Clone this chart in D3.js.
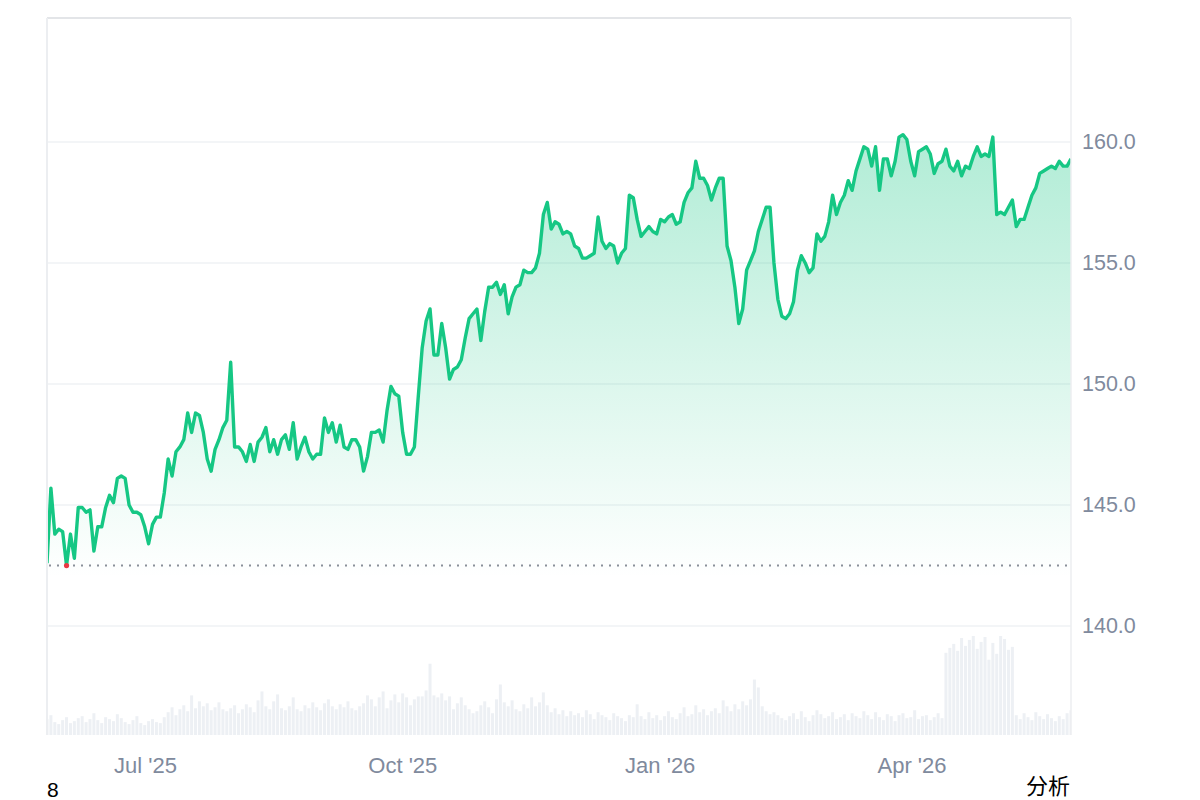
<!DOCTYPE html>
<html>
<head>
<meta charset="utf-8">
<script src="https://cdn.jsdelivr.net/npm/d3@7"></script>
<style>
  html, body { margin: 0; padding: 0; background: #fff; }
  svg { display: block; font-family: "Liberation Sans", Arial, sans-serif; }
</style>
</head>
<body>
<svg id="chart" width="1200" height="800"></svg>
<script>
// ---- data ----
const startDay = "2025-05-27";
const endDay = "2026-05-28";
const prices = [
  142.6,145.7,143.8,144.0,143.9,142.5,143.8,142.8,144.9,144.9,
  144.7,144.8,143.1,144.1,144.1,144.9,145.4,145.1,146.1,146.2,
  146.1,145.0,144.7,144.7,144.6,144.1,143.4,144.2,144.5,144.5,
  145.5,146.9,146.2,147.2,147.4,147.7,148.8,148.0,148.8,148.7,
  148.0,146.9,146.4,147.3,147.7,148.2,148.5,150.9,147.4,147.4,
  147.2,146.8,147.5,146.8,147.6,147.8,148.2,147.2,147.7,147.1,
  147.7,147.9,147.3,148.4,146.9,147.4,147.8,147.2,146.9,147.1,
  147.1,148.6,148.0,148.4,147.6,148.3,147.4,147.3,147.7,147.7,
  147.4,146.4,147.0,148.0,148.0,148.1,147.6,148.9,149.9,149.6,
  149.5,148.0,147.1,147.1,147.4,149.5,151.5,152.6,153.1,151.2,
  151.2,152.5,151.5,150.2,150.6,150.7,151.0,151.9,152.7,152.9,
  153.1,151.8,153.0,154.0,154.0,154.2,153.7,154.1,152.9,153.6,
  154.0,154.1,154.7,154.6,154.6,154.8,155.4,157.0,157.5,156.4,
  156.7,156.6,156.2,156.3,156.2,155.7,155.6,155.2,155.2,155.3,
  155.4,156.9,155.9,155.6,155.8,155.7,155.0,155.4,155.6,157.8,
  157.7,156.8,156.1,156.3,156.5,156.3,156.2,156.8,156.7,156.9,
  157.0,156.6,156.7,157.5,157.9,158.1,159.2,158.5,158.5,158.2,
  157.6,158.1,158.5,158.5,155.7,155.1,154.0,152.5,153.1,154.7,
  155.1,155.5,156.3,156.8,157.3,157.3,155.0,153.5,152.8,152.7,
  152.9,153.4,154.7,155.3,155.0,154.6,154.8,156.2,155.9,156.1,
  156.7,157.8,157.0,157.5,157.8,158.4,158.0,158.8,159.3,159.8,
  159.7,159.0,159.8,158.0,159.3,159.3,158.6,159.2,160.2,160.3,
  160.1,159.2,158.6,159.6,159.7,159.8,159.5,158.7,159.1,159.2,
  159.7,159.0,158.8,159.2,158.6,159.0,158.9,159.4,159.8,159.4,
  159.5,159.4,160.2,157.0,157.1,157.0,157.3,157.6,156.5,156.8,
  156.8,157.3,157.8,158.1,158.7,158.8,158.9,159.0,158.9,159.2,
  159.0,159.0,159.3
];
const volumes = [
  1.6,2.0,1.3,1.1,1.5,1.8,1.2,1.4,1.7,1.9,1.3,1.6,2.2,1.5,1.2,1.8,1.6,1.4,2.1,1.7,
  1.3,1.1,1.5,1.9,1.2,1.0,1.4,1.6,1.3,1.2,
  1.8,2.3,2.8,2.0,2.6,3.0,2.4,4.0,2.7,3.4,2.9,3.2,2.5,2.8,3.3,2.6,
  2.4,2.7,3.0,2.2,2.6,3.1,2.8,2.3,3.5,4.4,2.9,2.6,3.4,4.1,2.7,
  2.5,2.9,3.8,2.6,2.4,3.0,2.7,3.3,2.8,2.5,3.2,3.6,2.9,2.6,3.1,2.8,3.4,2.7,2.5,2.9,
  3.2,4.0,3.6,2.9,3.8,4.4,2.7,3.5,4.1,3.3,4.2,3.8,3.0,3.6,3.9,
  3.9,4.5,7.2,4.0,3.8,4.2,3.5,3.9,2.6,3.2,3.8,3.0,2.6,2.2,
  2.4,3.0,3.4,2.8,2.2,3.6,5.1,3.3,2.9,3.5,2.6,2.4,3.1,2.7,3.8,2.9,
  3.3,4.3,3.0,2.3,2.7,2.1,2.5,1.9,2.4,2.0,
  2.2,1.8,2.5,2.1,1.6,2.3,2.0,1.8,1.5,2.2,1.9,1.7,1.4,2.0,1.8,
  3.1,1.9,1.6,2.3,1.7,2.0,1.5,1.9,2.4,1.8,1.6,2.2,2.8,1.9,2.1,3.0,2.3,2.6,2.0,2.4,
  2.7,2.2,3.5,2.9,2.4,3.1,2.6,3.4,3.0,3.6,5.6,4.8,2.9,2.4,2.1,
  2.3,2.0,1.7,1.5,1.9,2.2,1.6,2.4,1.8,1.4,2.0,2.5,2.1,1.7,1.9,2.3,1.6,1.8,2.1,1.5,
  2.2,1.9,1.7,2.4,2.0,
  1.6,2.3,1.8,1.5,2.1,1.9,1.4,2.0,2.2,1.7,1.8,2.5,1.6,1.9,2.0,1.5,1.8,2.2,1.7,
  8.3,8.8,9.2,8.5,9.8,9.0,9.6,10.0,8.7,9.4,9.9,7.6,9.3,8.2,10.0,9.7,8.6,8.9,
  2.0,1.6,2.2,1.8,1.5,2.3,1.9,1.6,2.1,1.7,1.4,1.9,1.6,2.2,2.5
];
const referencePrice = 142.5;
const priceTicks = [140, 145, 150, 155, 160];
const dateTicks = ["2025-07-01", "2025-10-01", "2026-01-01", "2026-04-01"];
const cornerLabel = "8";
const actionLabel = "分析";

const parse = d3.timeParse("%Y-%m-%d");
const rows = prices.map((p, i) => ({ i, price: p, vol: volumes[i] }));

// ---- layout ----
const L = 47, R = 1071, T = 18, B = 735;
const svg = d3.select("#chart");

// points are evenly spaced sessions over the period; the time scale shares the same range for ticks
const x = d3.scaleLinear().domain([0, prices.length - 1]).range([L, R]);
const xt = d3.scaleTime().domain([parse(startDay), parse(endDay)]).range([L, R]);
const y = d3.scaleLinear().domain([135.5, 165.12]).range([B, T]);
const yv = d3.scaleLinear().domain([0, 10.3]).range([B, B - 102]);

const defs = svg.append("defs");
const grad = defs.append("linearGradient").attr("id", "fillGrad")
  .attr("gradientUnits", "userSpaceOnUse")
  .attr("x1", 0).attr("x2", 0).attr("y1", y(160.5)).attr("y2", y(142.0));
grad.append("stop").attr("offset", "0").attr("stop-color", "#16c784").attr("stop-opacity", 0.34);
grad.append("stop").attr("offset", "1").attr("stop-color", "#16c784").attr("stop-opacity", 0);
defs.append("clipPath").attr("id", "plotClip").append("rect")
  .attr("x", L).attr("y", T).attr("width", R - L).attr("height", B - T);

// gridlines
svg.append("g").selectAll("line").data(priceTicks).join("line")
  .attr("x1", L).attr("x2", R)
  .attr("y1", d => y(d)).attr("y2", d => y(d))
  .attr("stroke", "#eff2f5").attr("stroke-width", 1.5);

// volume bars
svg.append("g").attr("clip-path", "url(#plotClip)")
  .selectAll("rect").data(rows).join("rect")
  .attr("x", d => x(d.i) - 1.5)
  .attr("width", 3)
  .attr("y", d => yv(d.vol))
  .attr("height", d => B - yv(d.vol))
  .attr("fill", "#edf0f4");

// area
const area = d3.area().x(d => x(d.i)).y0(B).y1(d => y(d.price));
svg.append("path").datum(rows).attr("clip-path", "url(#plotClip)")
  .attr("d", area).attr("fill", "url(#fillGrad)");

// reference dotted line
svg.append("line")
  .attr("x1", L + 2).attr("x2", R)
  .attr("y1", y(referencePrice)).attr("y2", y(referencePrice))
  .attr("stroke", "#8a9099").attr("stroke-width", 2)
  .attr("stroke-dasharray", "2,6");

// price line
const line = d3.line().x(d => x(d.i)).y(d => y(d.price));
svg.append("path").datum(rows).attr("clip-path", "url(#plotClip)")
  .attr("d", line).attr("fill", "none")
  .attr("stroke", "#16c784").attr("stroke-width", 3.4)
  .attr("stroke-linejoin", "round");

// minimum marker
const minRow = rows.reduce((a, b) => (b.price < a.price ? b : a));
svg.append("circle")
  .attr("cx", x(minRow.i)).attr("cy", y(minRow.price))
  .attr("r", 2.6).attr("fill", "#ea3943");

// frame
svg.append("line").attr("x1", L).attr("x2", R).attr("y1", T).attr("y2", T)
  .attr("stroke", "#e3e5e8").attr("stroke-width", 2);
svg.append("line").attr("x1", L).attr("x2", L).attr("y1", T).attr("y2", B)
  .attr("stroke", "#eceef1").attr("stroke-width", 2);
svg.append("line").attr("x1", R).attr("x2", R).attr("y1", T).attr("y2", B)
  .attr("stroke", "#eceef1").attr("stroke-width", 1.5);

// y axis
const yAxis = svg.append("g").attr("transform", `translate(${R},0)`)
  .call(d3.axisRight(y).tickValues(priceTicks).tickFormat(d3.format(".1f")).tickSize(0).tickPadding(11));
yAxis.select(".domain").remove();
yAxis.selectAll("text").attr("fill", "#808a9d").style("font-size", "21.5px")
  .style("font-family", "'Liberation Sans', Arial, sans-serif");

// x axis
const xAxis = svg.append("g").attr("transform", `translate(0,${B})`)
  .call(d3.axisBottom(xt).tickValues(dateTicks.map(parse)).tickFormat(d3.timeFormat("%b '%y")).tickSize(0).tickPadding(22));
xAxis.select(".domain").remove();
xAxis.selectAll("text").attr("fill", "#808a9d").style("font-size", "22px")
  .style("font-family", "'Liberation Sans', Arial, sans-serif");

// stray labels
svg.append("text").attr("x", 47).attr("y", 797).text(cornerLabel)
  .attr("fill", "#000").style("font-size", "21px");
svg.append("text").attr("x", 1070).attr("y", 794).attr("text-anchor", "end").text(actionLabel)
  .attr("fill", "#000").style("font-size", "22px")
  .style("font-family", "'Noto Sans CJK SC', sans-serif");
</script>
</body>
</html>
